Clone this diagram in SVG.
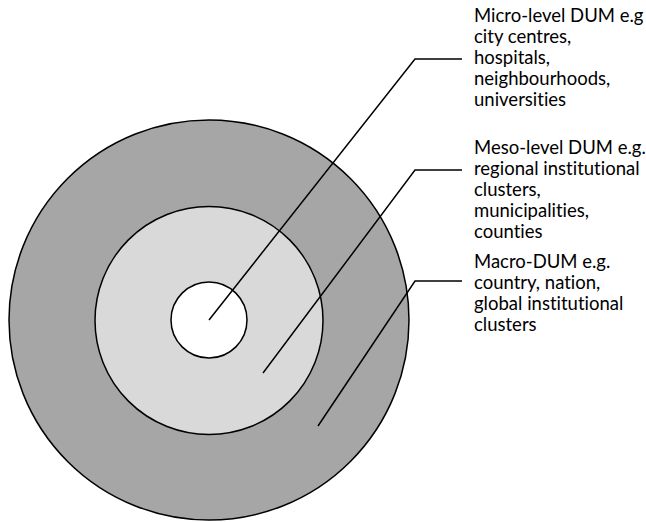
<svg xmlns="http://www.w3.org/2000/svg" width="646" height="522" viewBox="0 0 646 522">
<style>
.ring{stroke:#000;stroke-width:1.5}
.conn{fill:none;stroke:#000;stroke-width:1.5}
.lbl{font-family:Lato,"Open Sans","Liberation Sans",sans-serif;font-size:18.5px;fill:#000;font-variant-ligatures:none;font-feature-settings:"liga" 0,"dlig" 0}
</style>
<rect width="646" height="522" fill="#fff"/>
<g id="macro"><circle class="ring" cx="209" cy="320" r="200" fill="#a6a6a6"/></g>
<g id="meso"><circle class="ring" cx="209" cy="320.5" r="114" fill="#d9d9d9"/></g>
<g id="micro"><circle class="ring" cx="209" cy="320" r="38" fill="#fff"/></g>
<g id="connectors">
<polyline class="conn" points="209,320 415,59 462,59"/>
<polyline class="conn" points="263,373 415,170 462,170"/>
<polyline class="conn" points="318,426 415,281 462,281"/>
</g>
<g id="label-micro">
<text class="lbl" x="474" y="22">Micro-level DUM e.g</text>
<text class="lbl" x="474" y="43">city centres,</text>
<text class="lbl" x="474" y="64">hospitals,</text>
<text class="lbl" x="474" y="85">neighbourhoods,</text>
<text class="lbl" x="474" y="106">universities</text>
</g>
<g id="label-meso">
<text class="lbl" x="474" y="154">Meso-level DUM e.g.</text>
<text class="lbl" x="474" y="175">regional institutional</text>
<text class="lbl" x="474" y="196">clusters,</text>
<text class="lbl" x="474" y="217">municipalities,</text>
<text class="lbl" x="474" y="238">counties</text>
</g>
<g id="label-macro">
<text class="lbl" x="474" y="268">Macro-DUM e.g.</text>
<text class="lbl" x="474" y="289">country, nation,</text>
<text class="lbl" x="474" y="310">global institutional</text>
<text class="lbl" x="474" y="331">clusters</text>
</g>
</svg>
